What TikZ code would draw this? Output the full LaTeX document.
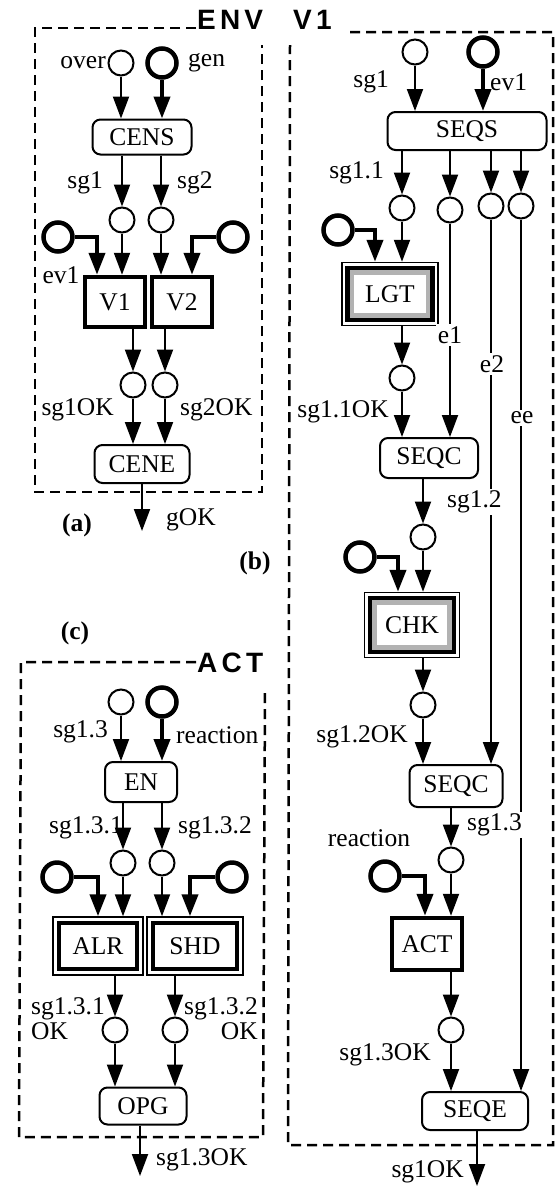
\documentclass[tikz,border=0pt]{standalone}
\usepackage{fontspec}
\setmainfont{Liberation Serif}
\newfontfamily\titlefont[LetterSpace=15]{Liberation Sans}
\usetikzlibrary{arrows.meta,positioning,calc}
\newcommand{\boxfont}{\fontsize{25.5}{26}\selectfont}
\newcommand{\labfont}{\fontsize{25.5}{25}\selectfont}
\tikzset{
  place/.style={draw,circle,line width=2pt,minimum size=25pt,inner sep=0pt},
  evt/.style={place,line width=4.5pt,minimum size=29pt},
  proc/.style={draw,rounded corners=8pt,line width=2pt,font=\boxfont,inner sep=0pt},
  unit/.style={draw,line width=4.5pt,font=\boxfont,inner sep=0pt},
  dbl/.style={draw,line width=1.5pt,font=\boxfont,inner sep=0pt,fill=white,
    path picture={\draw[line width=4.5pt]
      ([shift={(6pt,-6pt)}]path picture bounding box.north west) rectangle
      ([shift={(-6pt,6pt)}]path picture bounding box.south east);}},
  shd/.style={draw,line width=1.5pt,font=\boxfont,inner sep=0pt,fill=white,
    path picture={\draw[line width=4.5pt]
      ([shift={(5.5pt,-5.5pt)}]path picture bounding box.north west) rectangle
      ([shift={(-5.5pt,5.5pt)}]path picture bounding box.south east);
      \draw[gray!60,line width=4.5pt]
      ([shift={(10pt,-10pt)}]path picture bounding box.north west) rectangle
      ([shift={(-10pt,10pt)}]path picture bounding box.south east);}},
  flow/.style={-{Triangle[length=22pt,width=16pt]},line width=2pt},
  bflow/.style={flow,line width=4pt},
  lab/.style={font=\labfont,inner sep=1pt},
  cut/.style={lab,fill=white,inner sep=2pt},
  frame/.style={line width=2.5pt,dash pattern=on 10pt off 6pt},
  ttl/.style={font=\titlefont\bfseries\fontsize{28}{30}\selectfont,inner sep=0pt},
}
\begin{document}
\begin{tikzpicture}[x=1pt,y=-1pt]
\useasboundingbox (0,0) rectangle (556,1189);

% frames and titles
\draw[frame] (196,28) -- (35,28) -- (35,492) -- (262,492) -- (262,45);
\draw[frame] (350,32) -- (553,32) -- (553,1145) -- (288,1145) -- (290,45);
\draw[frame] (196,662) -- (21,662) -- (19,1137) -- (263,1137) -- (265,690);
\node[ttl,anchor=base west] (tenv) at (197,29) {ENV\hspace{30pt}V1};
\node[ttl,anchor=base west] (tact) at (197,672) {ACT};
\node[lab,font=\labfont\bfseries] (capa) at (77,525) {(a)};
\node[lab,font=\labfont\bfseries] (capb) at (255,563) {(b)};
\node[lab,font=\labfont\bfseries] (capc) at (75,633) {(c)};

% (a) ENV
\node[place] (over) at (121,63) {};
\node[evt] (gen) at (162,63) {};
\node[proc,minimum width=99pt,minimum height=35pt] (cens) at (142,137) {CENS};
\node[place] (sgA) at (122,220) {};
\node[place] (sgB) at (161,220) {};
\node[evt] (evA) at (58,237) {};
\node[evt] (evB) at (233,237) {};
\node[unit,minimum width=60pt,minimum height=50pt] (v1) at (115,302) {V1};
\node[unit,minimum width=60pt,minimum height=50pt] (v2) at (182,302) {V2};
\node[place] (okA) at (133,385) {};
\node[place] (okB) at (165,385) {};
\node[proc,minimum width=95pt,minimum height=38pt] (cene) at (142,464) {CENE};
\coordinate (gok) at (142,531);

\draw[flow] (over) -- (over |- cens.north);
\draw[bflow] (gen) -- (gen |- cens.north);
\draw[flow] (cens.south -| sgA) -- (sgA);
\draw[flow] (cens.south -| sgB) -- (sgB);
\draw[bflow] (evA) -| ([xshift=-18pt]v1.north);
\draw[flow] (sgA) -- (sgA |- v1.north);
\draw[flow] (sgB) -- (sgB |- v2.north);
\draw[bflow] (evB) -| ([xshift=10pt]v2.north);
\draw[flow] (v1.south -| okA) -- (okA);
\draw[flow] (v2.south -| okB) -- (okB);
\draw[flow] (okA) -- (okA |- cene.north);
\draw[flow] (okB) -- (okB |- cene.north);
\draw[flow] (cene) -- (gok);

\node[lab,anchor=east] at (107,63) {over};
\node[lab,anchor=west] at (187,63) {gen};
\node[lab,anchor=east] at (104,183) {sg1};
\node[lab,anchor=west] at (176,183) {sg2};
\node[lab] at (61,275) {ev1};
\node[lab,anchor=east] at (115,410) {sg1OK};
\node[lab,anchor=west] at (179,410) {sg2OK};
\node[lab,anchor=west] at (165,520) {gOK};

% (b) V1
\node[place] (sgC) at (415,52) {};
\node[evt] (evC) at (483,52) {};
\node[proc,minimum width=159pt,minimum height=38pt] (seqs) at (467,131) {SEQS};
\node[place] (s11) at (402,208) {};
\node[place] (pe1) at (450,210) {};
\node[place] (pe2) at (491,206) {};
\node[place] (pee) at (521,206) {};
\node[evt] (evL) at (338,230) {};
\node[shd,minimum width=96pt,minimum height=63pt] (lgt) at (390,294) {LGT};
\node[place] (s11ok) at (402,378) {};
\node[proc,minimum width=98pt,minimum height=40pt] (seqcA) at (429,458) {SEQC};
\node[place] (s12) at (423,537) {};
\node[evt] (evK) at (360,557) {};
\node[shd,minimum width=95pt,minimum height=65pt] (chk) at (412,625) {CHK};
\node[place] (s12ok) at (423,705) {};
\node[proc,minimum width=93pt,minimum height=42pt] (seqcB) at (456,786) {SEQC};
\node[place] (s13) at (451,860) {};
\node[evt] (evR) at (385,876) {};
\node[unit,minimum width=70pt,minimum height=52pt] (act) at (427,944) {ACT};
\node[place] (s13ok) at (451,1030) {};
\node[proc,minimum width=106pt,minimum height=38pt] (seqe) at (475,1111) {SEQE};
\coordinate (sgok) at (477,1186);

\draw[flow] (sgC) -- (sgC |- seqs.north);
\draw[bflow] (evC) -- (evC |- seqs.north);
\draw[flow] (seqs.south -| s11) -- (s11);
\draw[flow] (seqs.south -| pe1) -- (pe1);
\draw[flow] (seqs.south -| pe2) -- (pe2);
\draw[flow] (seqs.south -| pee) -- (pee);
\draw[bflow] (evL) -| ([xshift=-15pt]lgt.north);
\draw[flow] (s11) -- (s11 |- lgt.north);
\draw[flow] (lgt.south -| s11ok) -- (s11ok);
\draw[flow] (s11ok) -- (s11ok |- seqcA.north);
\draw[flow] (pe1) -- (pe1 |- seqcA.north);
\draw[flow] (seqcA.south -| s12) -- (s12);
\draw[bflow] (evK) -| ([xshift=-14pt]chk.north);
\draw[flow] (s12) -- (s12 |- chk.north);
\draw[flow] (chk.south -| s12ok) -- (s12ok);
\draw[flow] (s12ok) -- (s12ok |- seqcB.north);
\draw[flow] (pe2) -- (pe2 |- seqcB.north);
\draw[flow] (seqcB.south -| s13) -- (s13);
\draw[bflow] (evR) -| ([xshift=-2pt]act.north);
\draw[flow] (s13) -- (s13 |- act.north);
\draw[flow] (act.south -| s13ok) -- (s13ok);
\draw[flow] (s13ok) -- (s13ok |- seqe.north);
\draw[flow] (pee) -- (pee |- seqe.north);
\draw[flow] (seqe.south -| sgok) -- (sgok);

\node[lab,anchor=east] at (390,82) {sg1};
\node[lab,anchor=west] at (489,82) {ev1};
\node[lab,anchor=east] at (385,173) {sg1.1};
\node[cut] at (450,335) {e1};
\node[cut] at (492,364) {e2};
\node[cut] at (522,418) {ee};
\node[lab,anchor=east] at (390,412) {sg1.1OK};
\node[cut,anchor=west] at (445,502) {sg1.2};
\node[lab,anchor=east] at (409,737) {sg1.2OK};
\node[cut,anchor=west] at (465,825) {sg1.3};
\node[lab] at (369,838) {reaction};
\node[lab,anchor=east] at (432,1055) {sg1.3OK};
\node[lab,anchor=east] at (465,1172) {sg1OK};

% (c) ACT
\node[place] (sgD) at (121,702) {};
\node[evt] (evD) at (162,702) {};
\node[proc,minimum width=72pt,minimum height=40pt] (en) at (141,782) {EN};
\node[place] (s131) at (123,863) {};
\node[place] (s132) at (162,863) {};
\node[evt] (evE) at (57,877) {};
\node[evt] (evF) at (232,877) {};
\node[dbl,minimum width=90pt,minimum height=58pt] (alr) at (98,946) {ALR};
\node[dbl,minimum width=96pt,minimum height=58pt] (shdn) at (195,946) {SHD};
\node[place] (s131ok) at (115,1030) {};
\node[place] (s132ok) at (175,1030) {};
\node[proc,minimum width=87pt,minimum height=37pt] (opg) at (143,1106) {OPG};
\coordinate (s13out) at (140,1176);

\draw[flow] (sgD) -- (sgD |- en.north);
\draw[bflow] (evD) -- (evD |- en.north);
\draw[flow] (en.south -| s131) -- (s131);
\draw[flow] (en.south -| s132) -- (s132);
\draw[bflow] (evE) -| (alr.north);
\draw[flow] (s131) -- (s131 |- alr.north);
\draw[flow] (s132) -- (s132 |- shdn.north);
\draw[bflow] (evF) -| ([xshift=-5pt]shdn.north);
\draw[flow] (alr.south -| s131ok) -- (s131ok);
\draw[flow] (shdn.south -| s132ok) -- (s132ok);
\draw[flow] (s131ok) -- (s131ok |- opg.north);
\draw[flow] (s132ok) -- (s132ok |- opg.north);
\draw[flow] (opg.south -| s13out) -- (s13out);

\node[lab,anchor=east] at (109,732) {sg1.3};
\node[lab,anchor=west] at (175,735) {reaction};
\node[lab,anchor=east] at (124,828) {sg1.3.1};
\node[lab,anchor=west] at (177,828) {sg1.3.2};
\node[lab,anchor=west,align=left] at (30,1019) {sg1.3.1\\OK};
\node[lab,anchor=east,align=right] at (259,1019) {sg1.3.2\\OK};
\node[lab,anchor=west] at (155,1160) {sg1.3OK};
\end{tikzpicture}
\end{document}
